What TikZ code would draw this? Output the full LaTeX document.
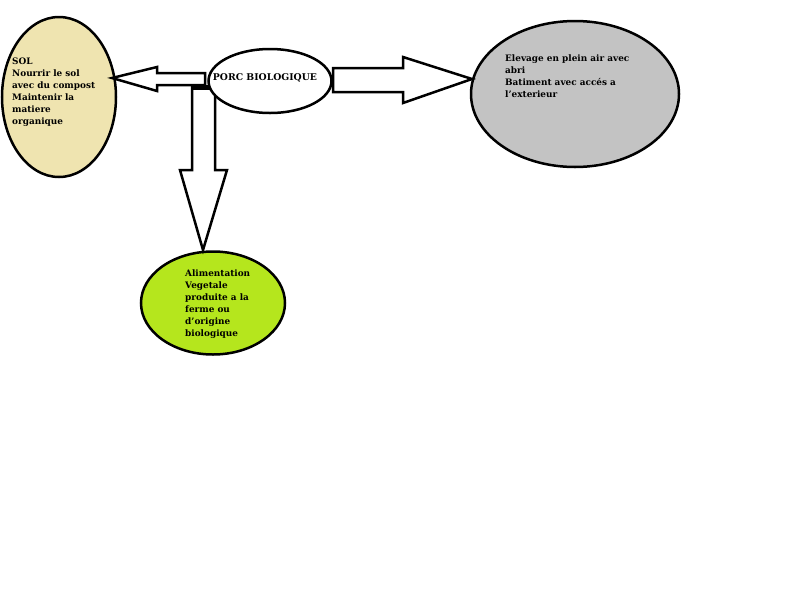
\documentclass[tikz,border=0pt]{standalone}
\usepackage{fontspec}
\setmainfont{DejaVu Serif}
\usetikzlibrary{shapes.geometric}

\definecolor{beige}{HTML}{EFE4B0}
\definecolor{gris}{HTML}{C3C3C3}
\definecolor{vert}{HTML}{B5E61D}

\tikzset{
  bulle/.style={ellipse, draw, line width=2.5pt, inner sep=0pt},
  fleche/.style={draw, fill=white, line width=2.5pt},
  texte/.style={anchor=north west, align=left, inner sep=0pt,
    font=\bfseries\fontsize{8.9}{12}\selectfont}
}

\begin{document}
\begin{tikzpicture}[x=1pt,y=-1pt]
\useasboundingbox (0,0) rectangle (800,600);
% les trois bulles autour
\node[bulle, fill=beige, minimum width=114pt, minimum height=160pt] (sol) at (59,97) {};
\node[bulle, fill=gris, minimum width=208pt, minimum height=146pt] (abri) at (575,94) {};
\node[bulle, fill=vert, minimum width=144pt, minimum height=103pt] (alim) at (213,303) {};
% les fleches
\draw[fleche] (205,73) -- (157,73) -- (157,67) -- (112,78) -- (157,91) -- (157,85) -- (205,85) -- cycle;
\draw[fleche] (333,68) -- (403,68) -- (403,57) -- (472,79) -- (403,103) -- (403,92) -- (333,92) -- cycle;
\draw[fleche] (192,87) -- (215,87) -- (215,170) -- (227,170) -- (203,250) -- (180,170) -- (192,170) -- cycle;
\fill (191,85) rectangle (215,90);
% la bulle du milieu
\node[bulle, fill=white, minimum width=123pt, minimum height=64pt] (porc) at (270,81) {};
\node[font=\bfseries\fontsize{9.3}{9}\selectfont, inner sep=0pt] (porctxt) at (265,78) {PORC BIOLOGIQUE};
% les textes
\node[texte] (soltxt) at (12,58) {SOL\\Nourrir le sol\\avec du compost\\Maintenir la\\matiere\\organique};
\node[texte] (abritxt) at (505,55) {Elevage en plein air avec\\abri\\Batiment avec accés a\\l'exterieur};
\node[texte] (alimtxt) at (185,270) {Alimentation\\Vegetale\\produite a la\\ferme ou\\d'origine\\biologique};
\end{tikzpicture}
\end{document}
